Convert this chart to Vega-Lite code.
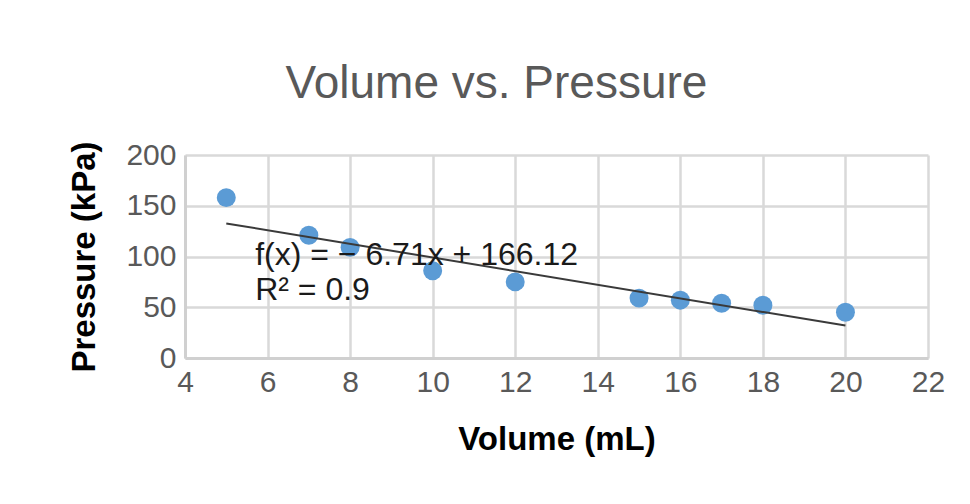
{
  "$schema": "https://vega.github.io/schema/vega-lite/v6.json",
  "autosize": "none",
  "width": 743,
  "height": 203,
  "padding": {"left": 185, "top": 155, "right": 42, "bottom": 146},
  "background": "white",
  "title": {
    "text": "Volume vs. Pressure",
    "font": "Liberation Sans",
    "fontSize": 46,
    "fontWeight": "normal",
    "color": "#595959",
    "anchor": "middle",
    "dx": -60,
    "offset": 32
  },
  "datasets": {
    "obs": [
      {"volume": 5, "pressure": 158},
      {"volume": 7, "pressure": 121},
      {"volume": 8, "pressure": 109},
      {"volume": 10, "pressure": 86},
      {"volume": 12, "pressure": 75},
      {"volume": 15, "pressure": 59},
      {"volume": 16, "pressure": 57},
      {"volume": 17, "pressure": 54},
      {"volume": 18, "pressure": 52},
      {"volume": 20, "pressure": 45}
    ],
    "trend": [
      {"volume": 5, "pressure": 132.57},
      {"volume": 20, "pressure": 31.92}
    ],
    "labels": [
      {"volume": 5.7, "pressure": 91.5, "label": "f(x) = − 6.71x + 166.12"},
      {"volume": 5.7, "pressure": 57, "label": "R² = 0.9"}
    ]
  },
  "config": {
    "view": {"stroke": null},
    "axis": {
      "grid": true,
      "gridColor": "#d9d9d9",
      "gridWidth": 2.5,
      "domainColor": "#d0d0d0",
      "domainWidth": 3,
      "ticks": false,
      "labelFont": "Liberation Sans",
      "labelFontSize": 30,
      "labelColor": "#595959",
      "titleFont": "Liberation Sans",
      "titleFontSize": 33,
      "titleFontWeight": "bold",
      "titleColor": "#000000"
    }
  },
  "layer": [
    {
      "data": {"name": "obs"},
      "mark": {"type": "point", "filled": true, "shape": "circle", "size": 360, "color": "#5b9bd5", "opacity": 1},
      "encoding": {
        "x": {
          "field": "volume",
          "type": "quantitative",
          "scale": {"domain": [4, 22], "nice": false, "zero": false},
          "axis": {"values": [4, 6, 8, 10, 12, 14, 16, 18, 20, 22], "title": "Volume (mL)", "labelPadding": 9, "titlePadding": 26, "labelFlush": false}
        },
        "y": {
          "field": "pressure",
          "type": "quantitative",
          "scale": {"domain": [0, 200], "nice": false},
          "axis": {"values": [0, 50, 100, 150, 200], "title": "Pressure (kPa)", "labelPadding": 9, "titlePadding": 24, "labelFlush": false}
        }
      }
    },
    {
      "data": {"name": "trend"},
      "mark": {"type": "line", "color": "#3a3a3a", "strokeWidth": 2},
      "encoding": {
        "x": {"field": "volume", "type": "quantitative"},
        "y": {"field": "pressure", "type": "quantitative"}
      }
    },
    {
      "data": {"name": "labels"},
      "mark": {"type": "text", "align": "left", "baseline": "alphabetic", "font": "Liberation Sans", "fontSize": 32, "color": "#1a1a1a"},
      "encoding": {
        "x": {"field": "volume", "type": "quantitative"},
        "y": {"field": "pressure", "type": "quantitative"},
        "text": {"field": "label"}
      }
    }
  ]
}
